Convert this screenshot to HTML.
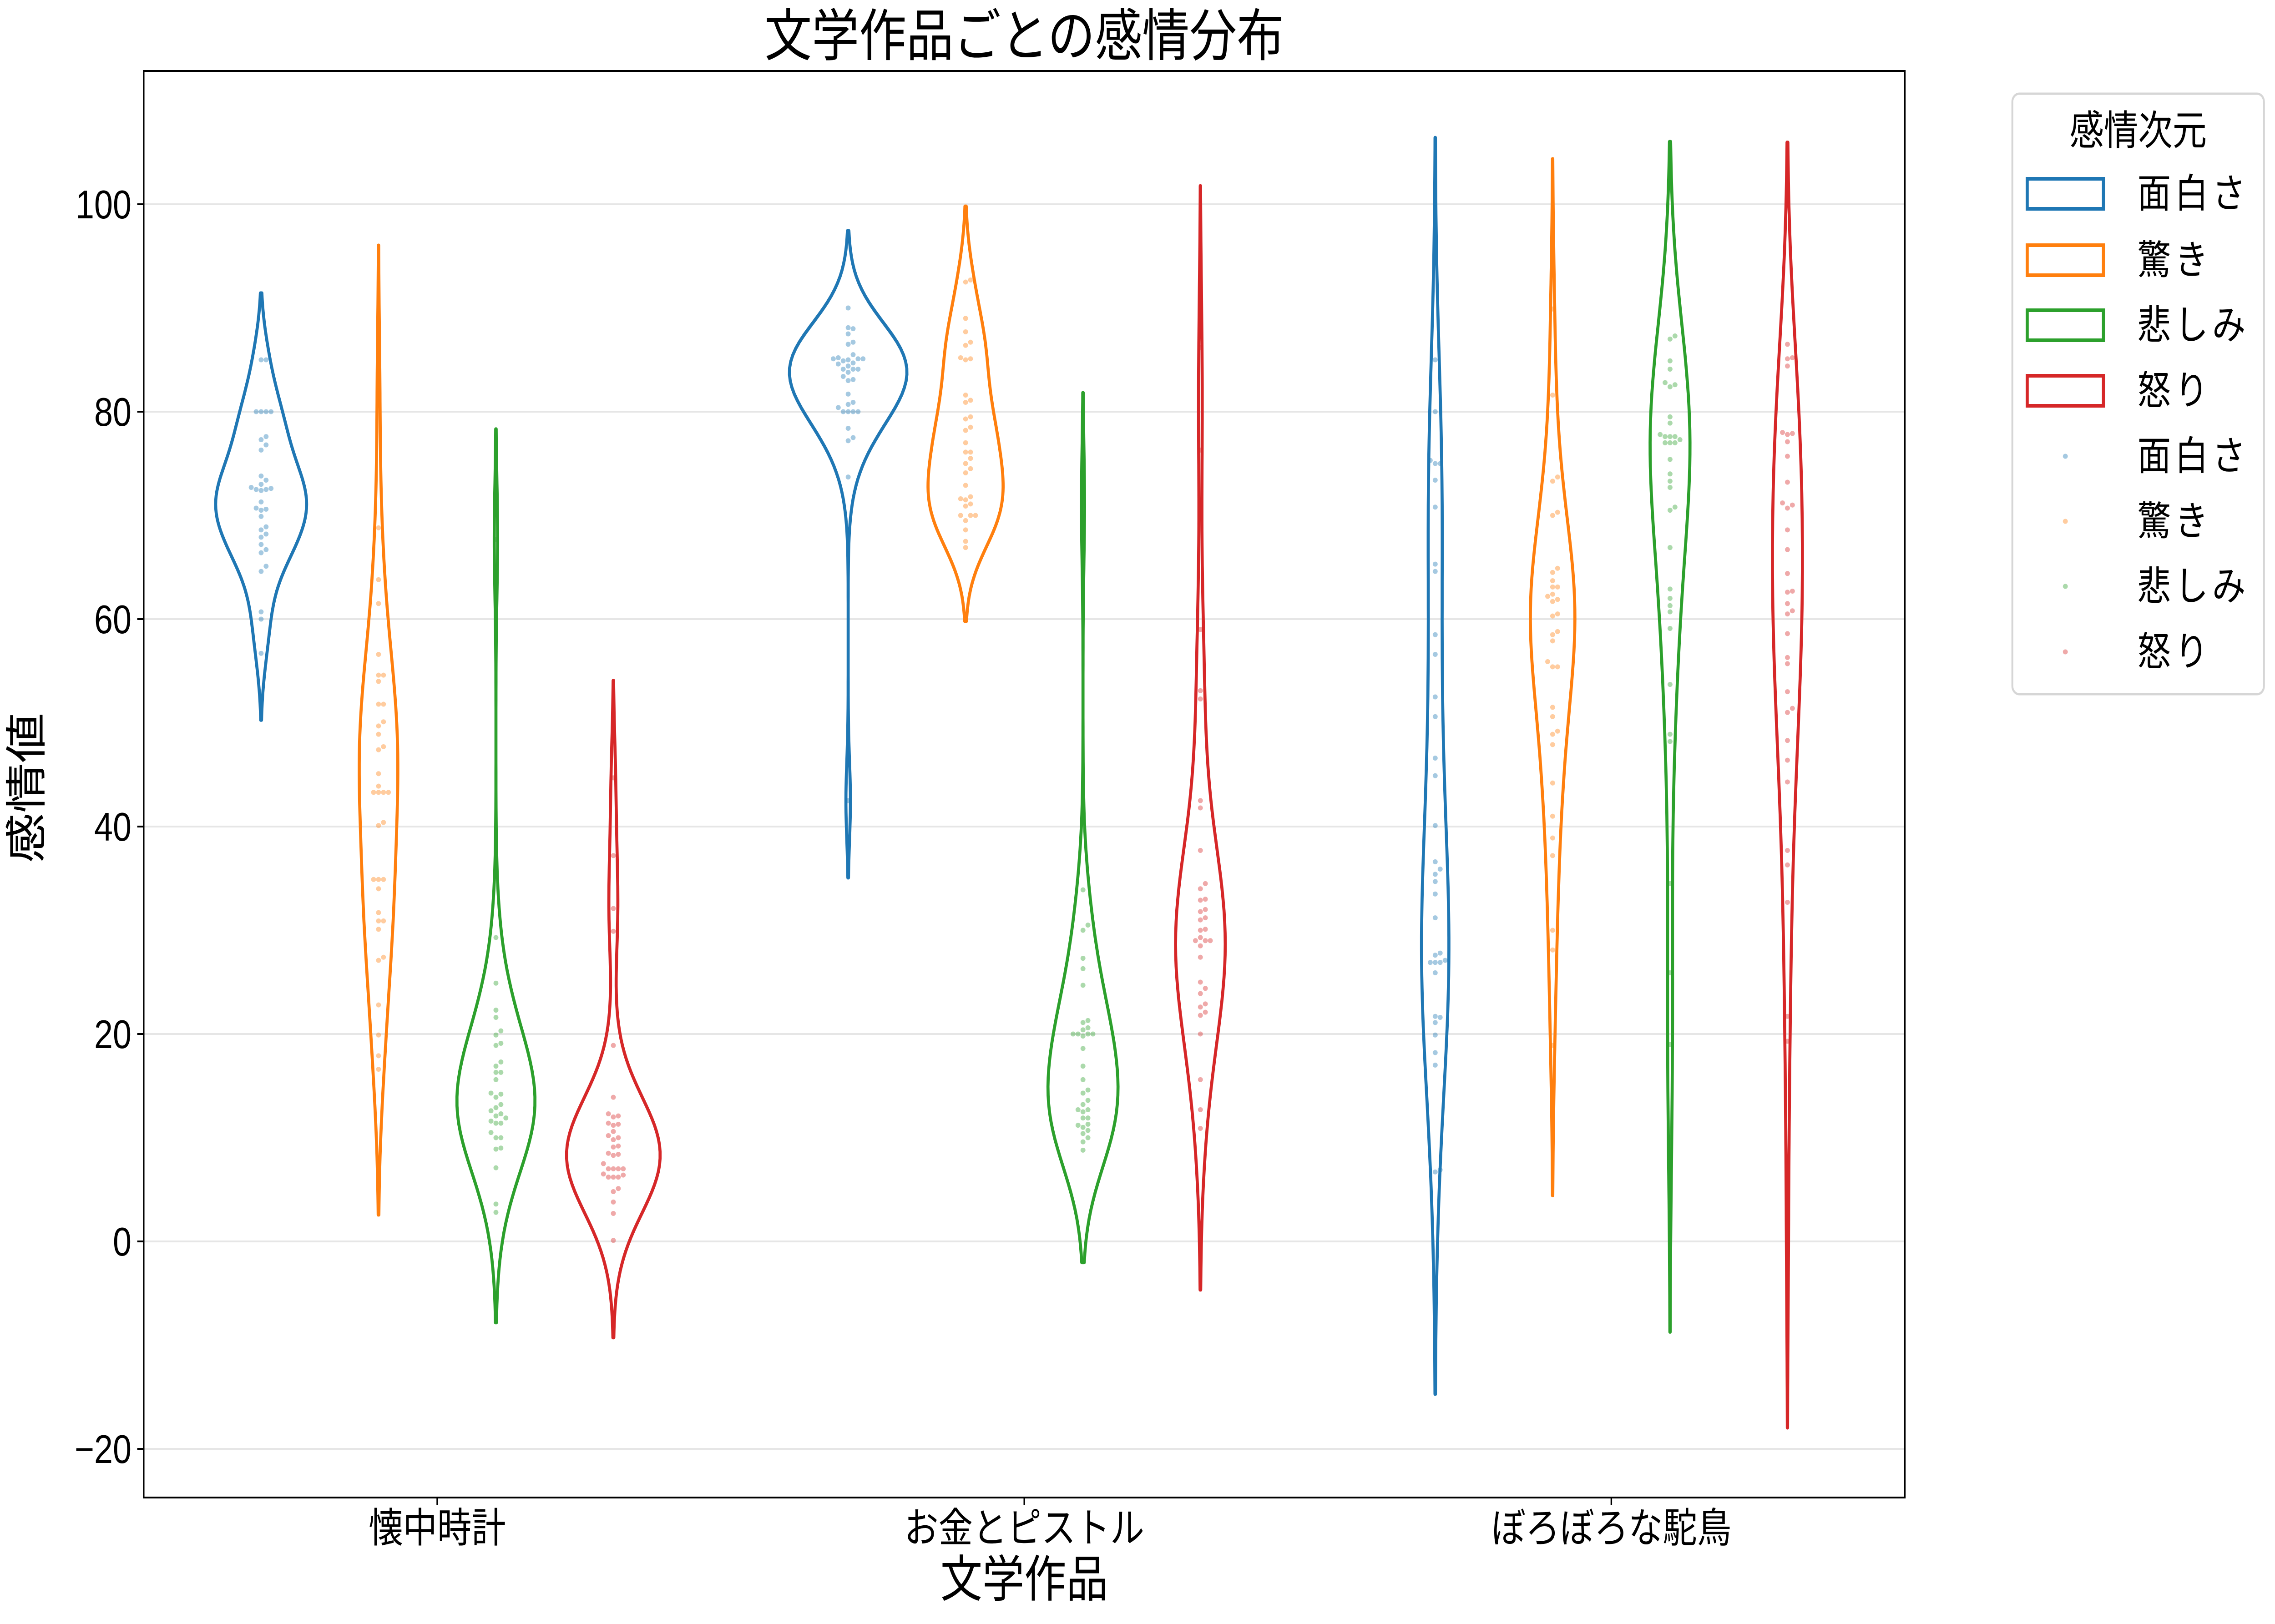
<!DOCTYPE html>
<html><head><meta charset="utf-8">
<style>
html,body{margin:0;padding:0;background:#fff;width:100%;height:100%;overflow:hidden;}
svg{display:block;position:absolute;left:0;top:0;width:100vw;height:100vh;font-family:"Liberation Sans","Noto Sans CJK JP",sans-serif;}
</style></head>
<body>
<svg id="chart" viewBox="0 0 5968 3570" preserveAspectRatio="none" xmlns="http://www.w3.org/2000/svg">
<rect width="5968" height="3570" fill="#fff"/>
<text x="2687" y="122" font-size="124" text-anchor="middle" fill="#000">文学作品ごとの感情分布</text>
<g id="grid"></g>
<g id="violins"></g>
<g id="points"></g>
<rect x="377" y="156" width="4620" height="3136" fill="none" stroke="#000" stroke-width="4"/>
<g id="yticks"></g>
<g id="xticks"></g>
<text x="2687" y="3510" font-size="110" text-anchor="middle" fill="#000">文学作品</text>
<text transform="translate(108,1732) rotate(-90)" font-size="110" text-anchor="middle" fill="#000">感情値</text>
<g id="legend">
<rect x="5279" y="206" width="660" height="1320" rx="18" fill="#fff" stroke="#d6d6d6" stroke-width="5"/>
<text x="5609" y="318" font-size="90" text-anchor="middle" fill="#000">感情次元</text>
</g>
</svg>
<script>
const categories = ["懐中時計", "お金とピストル", "ぼろぼろな駝鳥"];
const hues = ["面白さ", "驚き", "悲しみ", "怒り"];
const colors = ["#1f77b4", "#ff7f0e", "#2ca02c", "#d62728"];
const yTicks = [-20, 0, 20, 40, 60, 80, 100];

const g1_fun = [85,85,80,80,80,80,77.6,77.3,76.8,76.3,73.8,73.4,73,72.6,72.5,72.5,72.7,72.4,71.3,70.7,70.6,70.5,69.9,68.9,68.6,68.2,67.9,67.2,66.7,66.4,65.1,64.6,60.7,60,56.7];
const g1_sur = [82,68.8,63.8,61.5,56.6,54.6,54.6,54,51.8,51.8,50.1,49.7,48.9,47.7,47.4,45.1,43.9,43.3,43.3,43.3,43.3,40.4,40.1,34.9,34.9,34.9,34,31.7,30.9,30.9,30.1,27.4,27.1,22.8,19.9,17.9,16.6];
const g1_sad = [67.7,29.3,24.9,22.3,21.6,20.3,19.9,19.1,18.9,17.3,16.9,16.3,16.3,15.6,14.3,14.2,13.9,13.2,12.9,12.6,12.3,12.1,11.9,11.6,11.4,11.4,10.5,10,10,9,8.9,7.1,3.6,2.8];
const g1_ang = [44.7,37.2,32.1,29.9,18.9,13.9,12.3,12.1,12,11.4,11.3,11.2,10.6,10.2,10,9.8,9.2,9.1,8.5,8.4,8.3,7.5,7,7,7,7,6.5,6.4,6.2,6.2,6.2,5.1,4.8,3.8,2.7,0.1];
const g2_fun = [90,88.1,88,87.5,86.7,86.5,85.5,85.2,85.1,85.1,85.1,85,84.9,84.7,84.6,84.4,84.1,84.1,84.1,83.8,83.4,83.1,83,81.7,80.9,80.7,80.4,80,80,80,80,78.4,77.5,77.2,73.7,42.5];
const g2_sur = [92.7,92.5,89,87.7,86.7,86.4,85.2,85.1,85,81.6,81.1,80.9,79.5,79.3,78.5,78.2,77,76.1,76.1,75.5,75,74.5,74.1,72.9,71.8,71.6,71.5,71.1,70.9,70,70,70,69.5,68.6,67.5,66.9];
const g2_sad = [71,33.9,30.5,30,27.3,26.3,24.7,21.3,21.1,20.6,20.4,20,20,20,20,19.8,18.6,16.9,15.6,14.6,14.3,13.6,13.2,12.7,12.7,12.5,11.9,11.9,11.3,11.2,11,10.7,10.4,10,9.6,8.8];
const g2_ang = [86.2,76.3,59,53.1,52.3,42.5,41.8,37.7,34.5,34,33,32.9,32,31.8,31.2,31,30.1,30,29.3,29,29,29,28.5,27.4,25,24.4,23.9,22.9,22.6,22.1,21.8,20,15.6,12.7,10.9];
const g3_fun = [85,80,75,75,75.3,73.4,70.8,65.3,64.6,58.5,56.6,52.5,50.6,46.6,44.9,40.1,36.6,35.9,35.4,34.7,33.5,31.2,27.8,27.6,26.9,26.9,26.9,27.1,25.9,21.6,21.7,21.1,19.9,18.2,17,6.9,6.7];
const g3_sur = [89.9,81.6,73.7,73.3,70.3,70,64.9,64.5,63.7,63.1,63.1,62.4,62.2,61.9,61.7,60.5,60.3,58.8,58.5,57.9,55.9,55.4,55.4,51.5,50.6,49.2,48.9,47.9,44.2,41,38.9,37.2,30,28.1,18.9];
const g3_sad = [87.3,87,84.9,84.1,82.6,82.4,82.8,79.5,78.9,77.8,77.6,77.6,77.6,77.3,77,77,77,75.4,74,73.3,72.7,70.8,70.5,66.9,62.9,62,61.3,60.7,59.1,53.7,48.9,48.2,34.5,25.9,19,10];
const g3_ang = [86.5,85.2,85.1,84.4,77.9,77.8,77.1,78,75.7,73.2,71,70.7,71.2,68.6,66.7,64.4,62.7,62.6,61.5,60.8,60.5,58.6,56.3,55.7,53,51.4,51,48.3,46.4,44.3,37.7,36.3,32.7,21.7,19.3,1.5];
const values = [[g1_fun,g1_sur,g1_sad,g1_ang],[g2_fun,g2_sur,g2_sad,g2_ang],[g3_fun,g3_sur,g3_sad,g3_ang]];

const NS = "http://www.w3.org/2000/svg";
const PL = 377, PR = 4997, PT = 156, PB = 3292;
const Y0 = 2729, YK = 22.8;
function yScale(v){ return Y0 - YK * v; }
function xScale(c){ return PL + (c + 0.5) * (PR - PL) / 3; }
const unitPx = (PR - PL) / 3;
function mk(tag, attrs, parent){ const e = document.createElementNS(NS, tag); for (const k in attrs) e.setAttribute(k, attrs[k]); parent.appendChild(e); return e; }

const grid = document.getElementById('grid'), yt = document.getElementById('yticks');
yTicks.forEach(t => {
  const y = yScale(t);
  const gl = mk('line', {x1: PL, x2: PR, y1: y, y2: y, stroke: '#e6e6e6', 'stroke-width': 4}, grid);
  
  
  const tk = mk('line', {x1: PL - 17, x2: PL, y1: y, y2: y, stroke: '#000', 'stroke-width': 4}, yt);
  
  
  const lb = mk('text', {x: PL - 32, y: y + 31, 'font-size': 88, 'text-anchor': 'end', fill: '#000'}, yt);
  lb.textContent = t < 0 ? '\u2212' + Math.abs(t) : String(t);
  
  
});
const xt = document.getElementById('xticks');
categories.forEach((c, i) => {
  const x = xScale(i);
  const tk = mk('line', {x1: x, x2: x, y1: PB, y2: PB + 17, stroke: '#000', 'stroke-width': 4}, xt);
  
  
  const lb = mk('text', {x: x, y: 3390, 'font-size': 90, 'text-anchor': 'middle', fill: '#000'}, xt);
  lb.textContent = c;
  
  
});

function stats(a){ const n=a.length; const m=a.reduce((s,v)=>s+v,0)/n; const sd=Math.sqrt(a.reduce((s,v)=>s+(v-m)*(v-m),0)/(n-1)); return {n, sd, bw: sd*Math.pow(n,-0.2)}; }
const kdes = [];
let gmax = 0;
values.forEach((row, ci) => row.forEach((arr, hi) => {
  const s = stats(arr);
  const lo = Math.min(...arr) - 2*s.bw, hi2 = Math.max(...arr) + 2*s.bw;
  const ys = [], ds = [];
  for (let k = 0; k < 100; k++) {
    const y = lo + (hi2 - lo) * k / 99;
    let d = 0; arr.forEach(v => { const z = (y - v)/s.bw; d += Math.exp(-0.5*z*z); });
    d /= (arr.length * s.bw * Math.sqrt(2*Math.PI));
    ys.push(y); ds.push(d); if (d > gmax) gmax = d;
  }
  kdes.push({ci, hi, ys, ds});
}));
const vg = document.getElementById('violins');
const halfMax = 0.1 * unitPx;
kdes.forEach(k => {
  const cx = xScale(k.ci) + (k.hi - 1.5) * 0.2 * unitPx;
  let pts = [];
  for (let i = 0; i < k.ys.length; i++) pts.push((cx + halfMax*k.ds[i]/gmax).toFixed(1) + ',' + yScale(k.ys[i]).toFixed(1));
  for (let i = k.ys.length - 1; i >= 0; i--) pts.push((cx - halfMax*k.ds[i]/gmax).toFixed(1) + ',' + yScale(k.ys[i]).toFixed(1));
  const p = mk('polygon', {points: pts.join(' '), fill: 'none', stroke: colors[k.hi], 'stroke-width': 8, 'stroke-linejoin': 'round'}, vg);
  
  
});

const pg = document.getElementById('points');
const D = 13;
values.forEach((row, ci) => row.forEach((arr, hi) => {
  const cx = xScale(ci) + (hi - 1.5) * 0.2 * unitPx;
  const placed = [];
  arr.slice().sort((a,b)=>a-b).forEach(v => {
    const y = yScale(v);
    let off = 0;
    for (let s = 0; s < 60; s++) {
      const cand = s === 0 ? 0 : (s % 2 ? 1 : -1) * Math.ceil(s/2) * D;
      if (placed.every(p => Math.hypot(p[0]-cand, p[1]-y) >= D)) { off = cand; break; }
    }
    placed.push([off, y]);
    const c = mk('ellipse', {cx: cx + off, cy: y, rx: 6.5, ry: 5.5, fill: colors[hi], 'fill-opacity': 0.4}, pg);
    
    
  });
}));

const lg = document.getElementById('legend');
const rowsY = [426, 572, 715, 859, 1003, 1146, 1289, 1433];
hues.forEach((h, i) => {
  const r = mk('rect', {x: 5318, y: rowsY[i] - 33, width: 200, height: 66, fill: '#fff', stroke: colors[i], 'stroke-width': 8}, lg);
  
  
  const t = mk('text', {x: 5607, y: rowsY[i] + 30, 'font-size': 88, 'letter-spacing': 10, fill: '#000'}, lg);
  t.textContent = h;
  
  
  const e = mk('ellipse', {cx: 5418, cy: rowsY[i+4], rx: 6.5, ry: 5.5, fill: colors[i], 'fill-opacity': 0.4}, lg);
  
  
  const t2 = mk('text', {x: 5607, y: rowsY[i+4] + 30, 'font-size': 88, 'letter-spacing': 10, fill: '#000'}, lg);
  t2.textContent = h;
  
  
});
</script>
</body></html>
